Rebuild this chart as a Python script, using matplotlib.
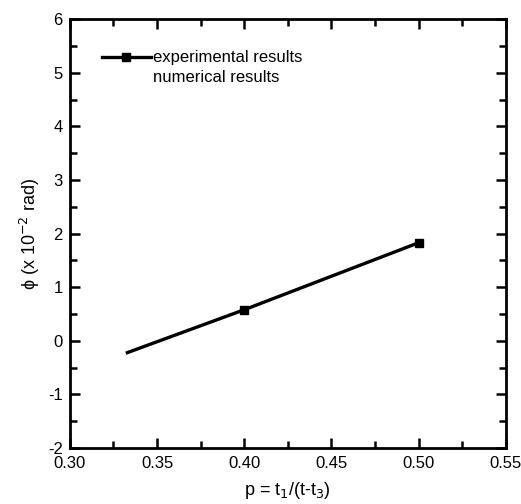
import matplotlib
matplotlib.use('Agg')
from matplotlib import pyplot as plt
from matplotlib.ticker import MultipleLocator

plt.rcParams['font.family'] = ['Liberation Sans', 'DejaVu Sans']
plt.rcParams['axes.unicode_minus'] = False

# experimental data
exp_p = [0.333, 0.40, 0.50]
exp_phi = [-0.22, 0.58, 1.83]
# numerical results (drawn white in the original)
num_p = [0.333, 0.40, 0.50]
num_phi = [-0.22, 0.58, 1.83]

fig = plt.figure(figsize=(5.21, 5.04), dpi=100)
ax = fig.add_axes([0.134, 0.111, 0.837, 0.851])

ax.plot(num_p, num_phi, color='w', lw=0.6, zorder=1, label='numerical results')
ax.plot(exp_p, exp_phi, color='k', lw=2.4, marker='s', markersize=6,
        markevery=[1, 2], zorder=2, label='experimental results')

ax.set_xlim(0.30, 0.55)
ax.set_ylim(-2, 6)
ax.xaxis.set_major_locator(MultipleLocator(0.05))
ax.xaxis.set_minor_locator(MultipleLocator(0.025))
ax.yaxis.set_major_locator(MultipleLocator(1))
ax.yaxis.set_minor_locator(MultipleLocator(0.5))
ax.set_xticks(ax.get_xticks())
ax.set_xticklabels(['%.2f' % v for v in ax.get_xticks()])
ax.set_xlim(0.30, 0.55)

ax.tick_params(which='both', direction='in', top=True, right=True,
               labelsize=12, width=1.8)
ax.tick_params(axis='x', which='major', length=7, pad=6)
ax.tick_params(axis='y', which='major', length=7, pad=5)
ax.tick_params(which='minor', length=5)
for s in ax.spines.values():
    s.set_linewidth(2)

ax.set_ylabel('ϕ (x 10$^{-2}$ rad)', fontsize=13, labelpad=4)
ax.set_xlabel('p = t$_1$/(t-t$_3$)', fontsize=13, labelpad=6)

handles, labels = ax.get_legend_handles_labels()
ax.legend(handles[::-1], labels[::-1], loc='upper left',
          bbox_to_anchor=(0.04, 0.962), frameon=False,
          fontsize=12, handlelength=2.9, handletextpad=0.15,
          labelspacing=0.25)

fig.savefig('out.png', dpi=100)
